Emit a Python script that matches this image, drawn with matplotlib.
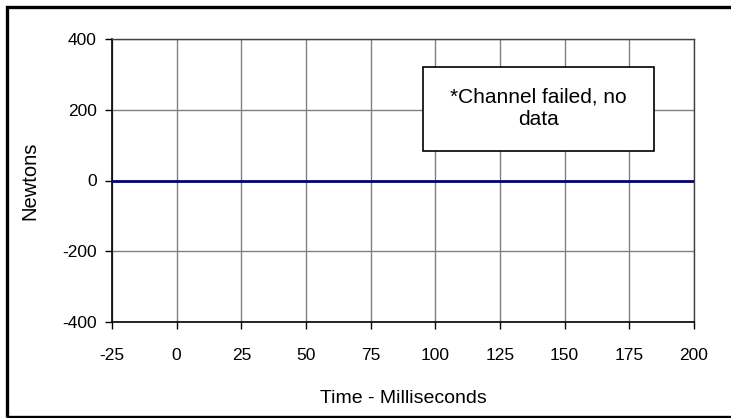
import matplotlib.pyplot as plt
from matplotlib.patches import Rectangle

# data (channel failed -> flat zero line)
time_ms = [-25, 200]
force_n = [0, 0]

x_ticks = [-25, 0, 25, 50, 75, 100, 125, 150, 175, 200]
y_ticks = [-400, -200, 0, 200, 400]

plt.rcParams['font.family'] = ['Liberation Sans', 'DejaVu Sans']
plt.rcParams['axes.unicode_minus'] = False

fig = plt.figure(figsize=(7.31, 4.18), dpi=100)
ax = fig.add_axes([112/731, 1 - 322/418, 582/731, 283/418])

ax.plot(time_ms, force_n, color='#000080', linewidth=2, zorder=3)

ax.set_xlim(-25, 200)
ax.set_ylim(-400, 400)
ax.set_xticks(x_ticks)
ax.set_yticks(y_ticks)
ax.grid(True, color='#808080', linewidth=1)
ax.tick_params(axis='both', labelsize=12.5, length=5, width=1, color='black', direction='out')
ax.tick_params(axis='x', pad=14)
ax.tick_params(axis='y', pad=6)

for side in ['left', 'bottom']:
    ax.spines[side].set_color('black')
    ax.spines[side].set_linewidth(1.2)
for side in ['top', 'right']:
    ax.spines[side].set_color('#404040')
    ax.spines[side].set_linewidth(1)

ax.set_xlabel('Time - Milliseconds', fontsize=14)
ax.xaxis.set_label_coords(0.5, -0.24)
ax.set_ylabel('Newtons', fontsize=14.5)
ax.yaxis.set_label_coords(-0.125, 0.5)

# note box
ax.add_patch(Rectangle((95.2, 83.4), 89.3, 237.4, facecolor='white', edgecolor='black',
                       linewidth=1.2, zorder=4))
ax.text(140, 205, '*Channel failed, no\ndata', ha='center', va='center', fontsize=15,
        linespacing=1.25, zorder=5)

# outer border of the chart (right side runs off the image, bottom just visible)
fig.patches.append(Rectangle((6.5/731, 1.5/418), 740/731, 410/418, transform=fig.transFigure,
                             fill=False, edgecolor='black', linewidth=2.4))

fig.savefig('out.png', dpi=100)
